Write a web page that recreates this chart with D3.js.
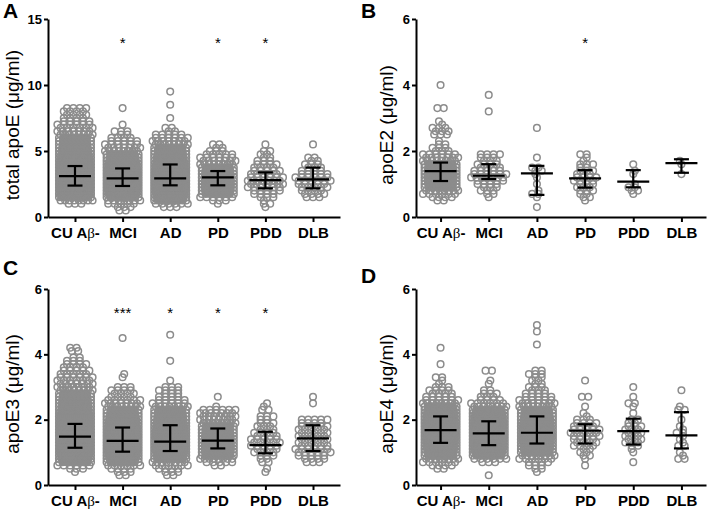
<!DOCTYPE html>
<html>
<head>
<meta charset="utf-8">
<script src="https://cdn.jsdelivr.net/npm/d3@7"></script>
<style>
body { margin: 0; background: #fff; }
svg text { font-family: "Liberation Sans", Arial, sans-serif; }
</style>
</head>
<body>
<svg id="chart" width="709" height="514"></svg>
<script>
const groups = ["CU Aβ-", "MCI", "AD", "PD", "PDD", "DLB"];

// swarm rows: lowest value of each group, then number of dots per row going up
const totalStep = 0.25;
const totalStart = [1.0, 0.5, 0.75, 1.0, 0.75, 1.5];
const totalRows = [
  [3,8,14,20,26,32,38,42,42,40, 36,30,25,21,18,15,13,11,10,9, 9,8,7,6,6,5,4,4,4,4],
  [2,3,5,7,10,16,22,28,32,34, 32,28,24,20,16,13,11,9,8,7, 6,5,4,2,3,0,1,0,0,0, 0,1],
  [3,6,10,14,18,24,30,34,36,34, 30,26,22,18,15,13,11,10,9,8, 7,6,5,2,2,0,0,1,0,0, 0,1,0,0,0,1],
  [1,3,6,9,11,12,12,12,12,11, 10,9,8,7,6,5,3,2,2],
  [1,2,1,3,4,5,6,7,7,6, 5,5,4,4,3,2,2,2,0,1],
  [3,4,4,5,5,6,6,5,4,3, 3,2,2,0,0,0,1]
];
const totalMed = [3.1, 2.93, 2.93, 3.0, 2.8, 2.85];
const totalQ1 = [2.38, 2.35, 2.4, 2.4, 2.17, 2.17];
const totalQ3 = [3.86, 3.68, 3.98, 3.48, 3.38, 3.74];
const totalStars = ["", "*", "", "*", "*", ""];

const e2Step = 0.1;
const e2Start = [0.5, 0.6, 0.3, 0.5, 0.7, 1.3];
const e2Rows = [
  [2,4,6,8,9,10,11,12,12,11, 10,9,8,7,6,3,3,2,1,0, 3,3,3,1,1,0,0,0,2,0, 0,0,0,0,0,1],
  [1,2,3,3,4,5,7,6,5,4, 4,3,3,4,0,0,0,0,0,0, 0,0,0,0,0,0,1,0,0,0, 0,1],
  [1,0,0,1,2,1,0,1,0,1, 1,2,2,0,0,1,0,0,0,0, 0,0,0,0,1],
  [1,2,2,3,3,3,4,4,3,3, 2,3,1,1,2],
  [1,2,2,1,0,0,1,1,0,1],
  [1,0,0,1,1]
];
const e2Med = [1.39, 1.25, 1.32, 1.17, 1.07, 1.63];
const e2Q1 = [1.09, 1.15, 0.67, 0.89, 0.9, 1.34];
const e2Q3 = [1.65, 1.6, 1.55, 1.42, 1.42, 1.75];
const e2Stars = ["", "", "", "*", "", ""];

const e3Step = 0.1;
const e3Start = [0.4, 0.3, 0.3, 0.6, 0.4, 0.7];
const e3Rows = [
  [1,3,6,10,14,18,22,25,28,30, 32,32,30,28,26,24,21,19,17,15, 13,12,11,10,9,8,7,7,6,6, 5,5,4,4,3,2,0,2,2],
  [2,3,4,6,9,12,16,20,23,25, 26,26,25,23,21,18,16,14,12,10, 9,8,7,6,4,4,4,3,0,0, 1,1,0,0,0,0,0,0,0,0, 0,0,1],
  [2,3,4,6,8,11,14,17,20,22, 23,23,22,20,18,16,14,12,11,10, 9,8,6,5,4,3,4,3,0,1, 0,0,0,0,0,1,0,0,0,0, 0,0,0,1],
  [2,5,8,10,11,12,12,12,12,11, 10,10,9,8,8,7,7,6,1,0, 0,1],
  [1,1,0,2,2,3,4,4,5,5, 5,4,4,3,3,3,2,3,0,2, 1,1],
  [3,4,5,6,6,5,5,5,5,5, 5,5,4,5,0,0,0,0,1,0, 1]
];
const e3Med = [1.48, 1.35, 1.33, 1.36, 1.22, 1.43];
const e3Q1 = [1.14, 1.02, 1.04, 1.12, 0.97, 1.04];
const e3Q3 = [1.87, 1.76, 1.83, 1.73, 1.63, 1.83];
const e3Stars = ["", "***", "*", "*", "*", ""];

const e4Step = 0.1;
const e4Start = [0.5, 0.3, 0.4, 0.6, 0.7, 0.8];
const e4Rows = [
  [2,4,6,8,10,12,14,16,18,20, 21,22,22,21,20,18,16,14,12,10, 8,6,5,4,4,3,1,1,2,0, 0,0,1,0,0,0,0,1],
  [1,0,0,0,3,6,10,14,18,22, 25,27,28,28,27,25,22,19,16,13, 10,8,6,4,3,3,2,0,1,1, 0,0,2],
  [1,2,3,4,6,8,10,12,14,16, 17,18,18,17,16,15,13,11,10,9, 8,7,6,5,4,3,3,2,2,2, 3,2,0,0,0,0,0,0,0,1, 0,0,0,1,0,1],
  [1,0,1,2,2,2,4,4,4,5, 5,5,4,4,3,1,1,0,1,0, 0,2,0,0,0,0,1],
  [1,0,0,1,1,2,3,3,3,3, 3,3,2,2,0,1,0,1,2,0, 1,0,0,1],
  [2,1,1,0,2,1,1,1,2,1, 1,0,1,0,0,2,1,0,0,0, 0,1]
];
const e4Med = [1.68, 1.58, 1.6, 1.66, 1.65, 1.52];
const e4Q1 = [1.29, 1.22, 1.27, 1.27, 1.24, 1.12];
const e4Q3 = [2.1, 1.95, 2.1, 1.86, 2.03, 2.23];
const e4Stars = ["", "", "", "", "", ""];

// layout of the four panels
const colL = {x0: 48, x1: 340, pad: 0.567}, colR = {x0: 416, x1: 706, pad: 0.51};
const rowT = {y0: 217, y1: 19}, rowB = {y0: 485, y1: 289};
const panels = [
  {letter: "A", lx: 3, ly: 18, title: "total apoE (μg/ml)", max: 15, ticks: [0,5,10,15], col: colL, row: rowT, titleX: 19,
   step: totalStep, start: totalStart, rows: totalRows, med: totalMed, q1: totalQ1, q3: totalQ3, stars: totalStars},
  {letter: "B", lx: 361, ly: 18, title: "apoE2 (μg/ml)", max: 6, ticks: [0,2,4,6], col: colR, row: rowT, titleX: 393,
   step: e2Step, start: e2Start, rows: e2Rows, med: e2Med, q1: e2Q1, q3: e2Q3, stars: e2Stars},
  {letter: "C", lx: 3, ly: 275, title: "apoE3 (μg/ml)", max: 6, ticks: [0,2,4,6], col: colL, row: rowB, titleX: 19,
   step: e3Step, start: e3Start, rows: e3Rows, med: e3Med, q1: e3Q1, q3: e3Q3, stars: e3Stars},
  {letter: "D", lx: 361, ly: 283, title: "apoE4 (μg/ml)", max: 6, ticks: [0,2,4,6], col: colR, row: rowB, titleX: 393,
   step: e4Step, start: e4Start, rows: e4Rows, med: e4Med, q1: e4Q1, q3: e4Q3, stars: e4Stars}
];

const dotR = 3.3, dotGap = 6.4, halfW = 16, grey = "#8c8c8c";
const svg = d3.select("#chart");

panels.forEach(p => {
  const x = d3.scalePoint().domain(groups).range([p.col.x0, p.col.x1]).padding(p.col.pad);
  const y = d3.scaleLinear().domain([0, p.max]).range([p.row.y0, p.row.y1]);
  const g = svg.append("g");

  // dots, laid out row by row like a prism scatter; squeezed rows get solid inside, open at the ends,
  // loose rows stacked on another row zigzag by half a gap
  const dots = [];
  groups.forEach((name, gi) => {
    const rows = p.rows[gi];
    rows.forEach((n, k) => {
      const v = Math.round((p.start[gi] + k * p.step) * 100) / 100;
      const s = n > 1 ? Math.min(dotGap, 2 * halfW / (n - 1)) : 0;
      const loose = n === 1 || s >= 4.1;
      const shift = loose && k > 0 && rows[k - 1] > 0 ? (k % 2 ? 1 : -1) * dotGap / 4 : 0;
      for (let i = 0; i < n; i++) {
        const packed = !loose && i > 0 && i < n - 1;
        dots.push({name, v, dx: (i - (n - 1) / 2) * s + shift, packed});
      }
    });
  });
  g.append("g").selectAll("circle").data(dots).join("circle")
    .attr("cx", d => x(d.name) + d.dx).attr("cy", d => y(d.v)).attr("r", dotR)
    .attr("fill", d => d.packed ? grey : "none").attr("stroke", grey).attr("stroke-width", 1.5);

  // median + interquartile range
  const bars = g.append("g").attr("stroke", "#000").attr("stroke-width", 2.2);
  groups.forEach((name, gi) => {
    const cx = x(name);
    bars.append("line").attr("x1", cx).attr("x2", cx).attr("y1", y(p.q1[gi])).attr("y2", y(p.q3[gi]));
    [p.q1[gi], p.q3[gi]].forEach(v => bars.append("line").attr("x1", cx - 7.5).attr("x2", cx + 7.5).attr("y1", y(v)).attr("y2", y(v)));
    bars.append("line").attr("x1", cx - 16).attr("x2", cx + 16).attr("y1", y(p.med[gi])).attr("y2", y(p.med[gi]));
  });

  // significance marks
  g.append("g").selectAll("text").data(groups).join("text")
    .attr("x", d => x(d)).attr("y", y(p.max * 0.9) + 9)
    .attr("text-anchor", "middle").attr("font-size", 15)
    .text((d, i) => p.stars[i]);

  // axes
  const yAxis = g.append("g").attr("transform", `translate(${p.col.x0},0)`)
    .call(d3.axisLeft(y).tickValues(p.ticks).tickFormat(d3.format("d")).tickSize(4).tickPadding(2).tickSizeOuter(0));
  const xAxis = g.append("g").attr("transform", `translate(0,${p.row.y0})`)
    .call(d3.axisBottom(x).tickSize(5).tickPadding(5.5).tickSizeOuter(0));
  [yAxis, xAxis].forEach(a => {
    a.select(".domain").attr("stroke", "#000").attr("stroke-width", 2);
    a.selectAll(".tick line").attr("stroke", "#000").attr("stroke-width", 2);
    a.selectAll(".tick text").attr("fill", "#000").attr("font-weight", "bold")
      .attr("font-family", "Liberation Sans, Arial, sans-serif");
  });
  yAxis.selectAll(".tick text").attr("font-size", 13);
  xAxis.selectAll(".tick text").attr("font-size", 15).each(function(d) {
    if (d.includes("β")) {
      const t = d3.select(this).text(null);
      t.append("tspan").text("CU A");
      t.append("tspan").attr("font-weight", "normal").attr("font-family", "Liberation Serif, serif").text("β");
      t.append("tspan").text("-");
    }
  });

  // axis title and panel letter
  g.append("text")
    .attr("transform", `translate(${p.titleX},${(p.row.y0 + p.row.y1) / 2 + 7}) rotate(-90)`)
    .attr("text-anchor", "middle").attr("font-size", 19).text(p.title);
  g.append("text").attr("x", p.lx).attr("y", p.ly)
    .attr("font-size", 21).attr("font-weight", "bold").text(p.letter);
});
</script>
</body>
</html>
